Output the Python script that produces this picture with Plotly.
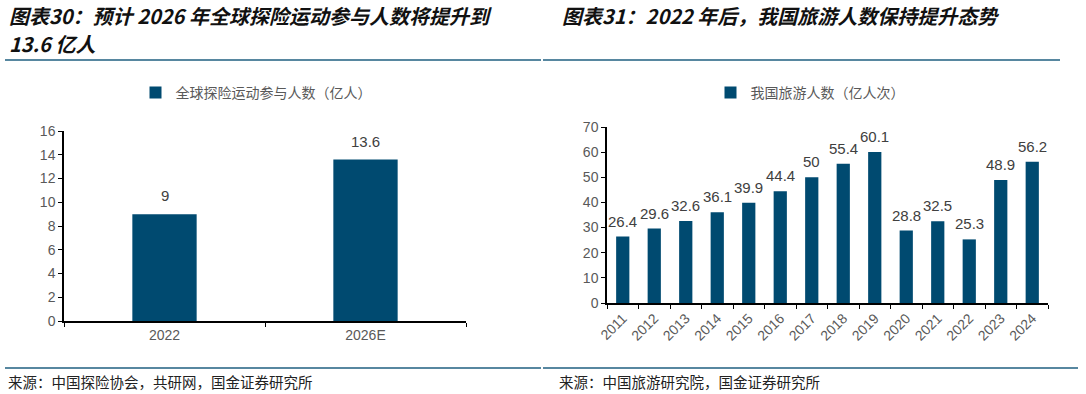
import plotly.graph_objects as go

# ---- data ----
left_categories = ["2022", "2026E"]
left_values = [9, 13.6]
left_series_name = "全球探险运动参与人数（亿人）"

right_categories = ["2011", "2012", "2013", "2014", "2015", "2016", "2017",
                    "2018", "2019", "2020", "2021", "2022", "2023", "2024"]
right_values = [26.4, 29.6, 32.6, 36.1, 39.9, 44.4, 50, 55.4, 60.1, 28.8, 32.5, 25.3, 48.9, 56.2]
right_series_name = "我国旅游人数（亿人次）"

left_title_lines = ["图表30：预计 2026 年全球探险运动参与人数将提升到", "13.6 亿人"]
right_title = "图表31：2022 年后，我国旅游人数保持提升态势"
left_source = "来源：中国探险协会，共研网，国金证券研究所"
right_source = "来源：中国旅游研究院，国金证券研究所"

# ---- style ----
W, H = 1086, 394
BAR = "#004A70"
LINE = "#1F5F80"
TICK = "#595959"
LABEL = "#404040"
FONT = "Noto Sans CJK SC, Liberation Sans, sans-serif"
NUMFONT = "Liberation Sans, Arial, sans-serif"

def px(x):
    return x / W

def py(y):
    return 1 - y / H

fig = go.Figure()

fig.add_trace(go.Bar(
    x=left_categories, y=left_values, name=left_series_name,
    marker=dict(color=BAR, line=dict(width=0)), width=0.32,
    xaxis="x", yaxis="y", legend="legend", showlegend=True,
))
fig.add_trace(go.Bar(
    x=right_categories, y=right_values, name=right_series_name,
    marker=dict(color=BAR, line=dict(width=0)), width=0.42,
    xaxis="x2", yaxis="y2", legend="legend2", showlegend=True,
))

annotations = []
for i, v in enumerate(left_values):
    annotations.append(dict(x=i, y=v, xref="x", yref="y", text=f"{v:g}",
                            showarrow=False, yanchor="bottom", yshift=8,
                            font=dict(family=NUMFONT, size=15, color=LABEL)))
for i, v in enumerate(right_values):
    annotations.append(dict(x=i, y=v, xref="x2", yref="y2", text=f"{v:g}",
                            showarrow=False, yanchor="bottom", yshift=5,
                            font=dict(family=NUMFONT, size=15, color=LABEL)))

# titles
for line_text, yc in zip(left_title_lines, [15, 43]):
    annotations.append(dict(x=px(7), y=py(yc), xref="paper", yref="paper", xanchor="left",
                            yanchor="middle", align="left", showarrow=False,
                            text=f"<b><i>{line_text}</i></b>",
                            font=dict(family=FONT, size=20, color="#111111")))
annotations.append(dict(x=px(560), y=py(15), xref="paper", yref="paper", xanchor="left", yanchor="middle",
                        align="left", showarrow=False, text=f"<b><i>{right_title}</i></b>",
                        font=dict(family=FONT, size=20, color="#111111")))
# sources
annotations.append(dict(x=px(6), y=py(381), xref="paper", yref="paper", xanchor="left", yanchor="middle",
                        showarrow=False, text=left_source,
                        font=dict(family=FONT, size=14.5, color="#222222")))
annotations.append(dict(x=px(557), y=py(381), xref="paper", yref="paper", xanchor="left", yanchor="middle",
                        showarrow=False, text=right_source,
                        font=dict(family=FONT, size=14.5, color="#222222")))

shapes = [
    dict(type="line", xref="paper", yref="paper", x0=px(5), x1=px(541), y0=py(60), y1=py(60),
         line=dict(color=LINE, width=1.5)),
    dict(type="line", xref="paper", yref="paper", x0=px(543), x1=px(1060), y0=py(60), y1=py(60),
         line=dict(color=LINE, width=1.5)),
    dict(type="line", xref="paper", yref="paper", x0=px(5), x1=px(541), y0=py(368), y1=py(368),
         line=dict(color=LINE, width=1.5)),
    dict(type="line", xref="paper", yref="paper", x0=px(543), x1=px(1078), y0=py(368), y1=py(368),
         line=dict(color=LINE, width=1.5)),
]

axis_common = dict(showline=True, linecolor="#000000", linewidth=1.5, showgrid=False, zeroline=False,
                   ticks="outside", tickcolor="#000000", ticklen=4, tickwidth=1, automargin=False,
                   tickfont=dict(family=NUMFONT, size=14, color=TICK), fixedrange=True)

fig.update_layout(
    width=W, height=H,
    margin=dict(l=0, r=0, t=0, b=0, autoexpand=False),
    paper_bgcolor="white", plot_bgcolor="white",
    xaxis=dict(domain=[px(64), px(466)], anchor="y", type="category", tickson="boundaries",
               range=[-0.5, len(left_categories) - 0.5], **axis_common),
    yaxis=dict(domain=[py(321), py(131)], anchor="x", range=[0, 16], dtick=2, **axis_common),
    xaxis2=dict(domain=[px(607), px(1048)], anchor="y2", type="category", tickson="boundaries",
                range=[-0.5, len(right_categories) - 0.5], tickangle=-45, **axis_common),
    yaxis2=dict(domain=[py(303), py(127)], anchor="x2", range=[0, 70], dtick=10, **axis_common),
    legend=dict(x=px(256), y=py(93), xanchor="center", yanchor="middle", orientation="h",
                font=dict(family=FONT, size=14, color=TICK), bgcolor="rgba(0,0,0,0)", itemwidth=30),
    legend2=dict(x=px(810), y=py(93), xanchor="center", yanchor="middle", orientation="h",
                 font=dict(family=FONT, size=14, color=TICK), bgcolor="rgba(0,0,0,0)", itemwidth=30),
    annotations=annotations,
    shapes=shapes,
)

fig.write_html("out.html", config={"displayModeBar": False},
               post_script="document.body.style.margin='0';document.body.style.overflow='hidden';")
